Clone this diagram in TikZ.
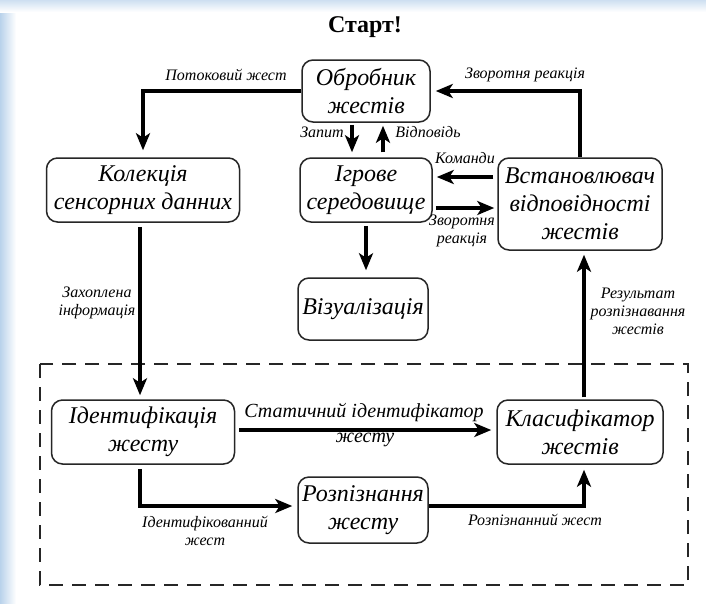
\documentclass[tikz,border=0pt]{standalone}
\usepackage{fontspec}
\setmainfont{Liberation Serif}[ItalicFont={Liberation Serif Italic},BoldFont={Liberation Serif Bold}]
\usetikzlibrary{arrows.meta}
\definecolor{bgblue}{RGB}{185,210,235}
\begin{document}
\begin{tikzpicture}[x=1pt,y=-1pt,
  box/.style={draw=black!85, line width=1.5pt, rounded corners=11pt, align=center,
    inner sep=0pt, font=\itshape\fontsize{24}{28}\selectfont},
  arr/.style={line width=3.3pt, -{Stealth[length=17pt,width=14pt,inset=4.5pt]}},
  lab/.style={font=\itshape\fontsize{16}{18}\selectfont, align=center, inner sep=1pt},
  biglab/.style={lab, font=\itshape\fontsize{20}{22}\selectfont},
  frame/.style={draw=black!85, line width=1.6pt, dash pattern=on 14pt off 9pt}]
\useasboundingbox (0,0) rectangle (706,603);
\fill[white] (0,0) rectangle (706,603);
\shade[left color=bgblue, right color=white] (0,0) rectangle (16,603);
\shade[top color=bgblue!70, bottom color=white] (0,0) rectangle (706,12);

\node[font=\bfseries\fontsize{24}{28}\selectfont] (title) at (365,27) {Старт!};

\node[box, minimum width=128pt, minimum height=62pt] (obr) at (366,91) {Обробник\\жестів};
\node[box, minimum width=193pt, minimum height=64pt] (kol) at (143,190) {Колекція\\сенсорних данних};
\node[box, minimum width=132pt, minimum height=64pt] (igr) at (366,190) {Ігрове\\середовище};
\node[box, minimum width=164pt, minimum height=92pt] (vst) at (580,204) {Встановлювач\\відповідності\\жестів};
\node[box, minimum width=130pt, minimum height=62pt] (viz) at (363,309) {Візуалізація};
\node[box, minimum width=183pt, minimum height=64pt] (ide) at (143,432) {Ідентифікація\\жесту};
\node[box, minimum width=166pt, minimum height=64pt] (kla) at (580,432) {Класифікатор\\жестів};
\node[box, minimum width=130pt, minimum height=66pt] (roz) at (363,510) {Розпізнання\\жесту};

\draw[frame] (40,364) rectangle (688,585);

% top loop
\draw[arr, shorten >=7pt] (obr.west) -| (kol.north);
\node[lab] (l1) at (226,75) {Потоковий жест};
\draw[arr, shorten >=5pt] (vst.north) |- (obr.east);
\node[lab] (l2) at (525,75) {Зворотня реакція};

% request / response
\draw[arr, shorten <=2pt, shorten >=5pt] ([xshift=-14pt]obr.south) -- ([xshift=-14pt]igr.north);
\node[lab] (l3) at (322,132) {Запит};
\draw[arr, shorten <=5pt, shorten >=3pt] ([xshift=17pt]igr.north) -- ([xshift=17pt]obr.south);
\node[lab] (l4) at (428,132) {Відповідь};

% commands / feedback
\draw[arr, shorten <=4pt, shorten >=4pt] ([yshift=27pt]vst.west) -- ([yshift=13pt]igr.east);
\node[lab] (l5) at (465,158) {Команди};
\draw[arr, shorten <=3pt, shorten >=3pt] ([yshift=-18pt]igr.east) -- ([yshift=-4pt]vst.west);
\node[lab] (l6) at (462,231) {Зворотня\\реакція};

% visualisation
\draw[arr, shorten <=3pt, shorten >=7pt] (igr.south) -- (igr.south |- viz.north);

% capture
\draw[arr, shorten <=4pt, shorten >=4pt] ([xshift=-3pt]kol.south) -- ([xshift=-3pt]ide.north);
\node[lab] (l7) at (97,303) {Захоплена\\інформація};

% result
\draw[arr, shorten <=2pt, shorten >=4pt] ([xshift=4pt]kla.north) -- ([xshift=4pt]vst.south);
\node[lab] (l8) at (638,311) {Результат\\розпізнавання\\жестів};

% static id
\draw[arr, shorten <=4pt, shorten >=5pt] ([yshift=2pt]ide.east) -- ([yshift=2pt]kla.east -| kla.west);
\node[biglab] (l9) at (364,413) {Статичний ідентифікатор};
\node[biglab] (l10) at (365,440) {жесту};

% identified gesture
\draw[arr, shorten <=4pt, shorten >=5pt] ([xshift=-3pt]ide.south) |- ([yshift=4pt]roz.west);
\node[lab] (l11) at (205,531) {Ідентифікованний\\жест};

% recognised gesture
\draw[arr, shorten >=5pt] ([yshift=4pt]roz.east) -| ([xshift=4pt]kla.south);
\node[lab] (l12) at (535,520) {Розпізнанний жест};
\end{tikzpicture}
\end{document}
